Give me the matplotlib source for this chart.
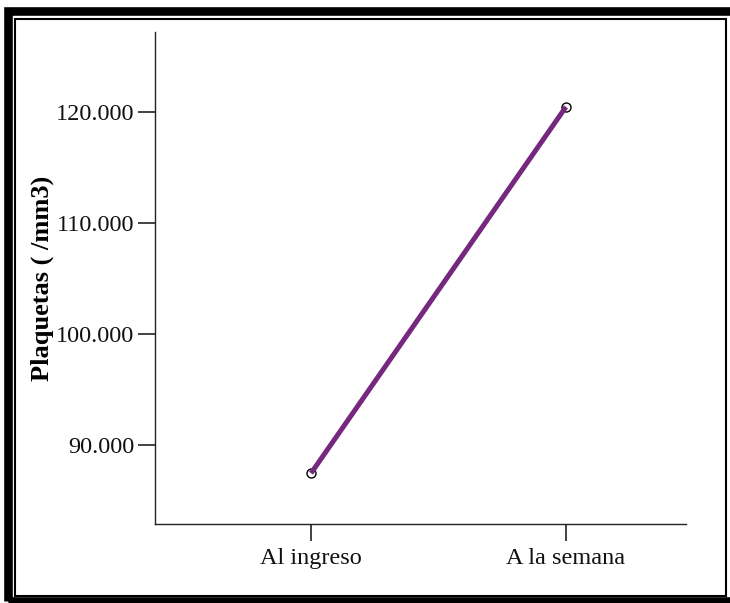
import matplotlib
matplotlib.use("Agg")
import matplotlib.pyplot as plt
from matplotlib.patches import Rectangle
from matplotlib.ticker import FuncFormatter

categories = ["Al ingreso", "A la semana"]
values = [87450, 120500]
yticks = [90000, 100000, 110000, 120000]
ylabel = "Plaquetas ( /mm3)"

plt.rcParams['font.family'] = ['Liberation Serif', 'DejaVu Serif']

W, H = 730, 603
fig = plt.figure(figsize=(W / 100, H / 100), dpi=100)

def fx(px):
    return px / W

def fy(py):
    return 1 - py / H

ax = fig.add_axes([fx(155), fy(524), fx(686) - fx(155), fy(32) - fy(524)])

x = list(range(len(categories)))
ax.plot(x, values, linestyle='none', marker='o', markersize=6.5,
        markerfacecolor='white', markeredgecolor='black', markeredgewidth=1.0, zorder=2)
ax.plot(x, values, color='#76287F', linewidth=3.6, solid_capstyle='butt', zorder=3)

ax.set_xlim(-0.612, 1.471)
ax.set_ylim(82870, 127256)
ax.set_xticks(x)
ax.set_xticklabels(categories)
ax.set_yticks(yticks)
ax.yaxis.set_major_formatter(FuncFormatter(lambda v, p: f"{int(v):,}".replace(",", ".")))

for s in ['top', 'right']:
    ax.spines[s].set_visible(False)
for s in ['left', 'bottom']:
    ax.spines[s].set_color('#222222')
    ax.spines[s].set_linewidth(1.0)

ax.tick_params(axis='both', direction='out', length=12, width=1.2, color='#222222',
               labelsize=17.5, labelcolor='#111111')
ax.tick_params(axis='y', pad=3)
ax.tick_params(axis='x', pad=5)
ax.set_ylabel(ylabel, fontsize=19, fontweight='bold', labelpad=1)

# outer thick frame and inner thin frame
fig.add_artist(Rectangle((fx(7.5), fy(601)), fx(732) - fx(7.5), fy(11) - fy(601),
                         transform=fig.transFigure, fill=False, edgecolor='black',
                         linewidth=6.2, clip_on=False))
fig.add_artist(Rectangle((fx(15), fy(595.5)), fx(725.5) - fx(15), fy(18.5) - fy(595.5),
                         transform=fig.transFigure, fill=False, edgecolor='black',
                         linewidth=1.5, clip_on=False))

fig.savefig("out.png", dpi=100)
